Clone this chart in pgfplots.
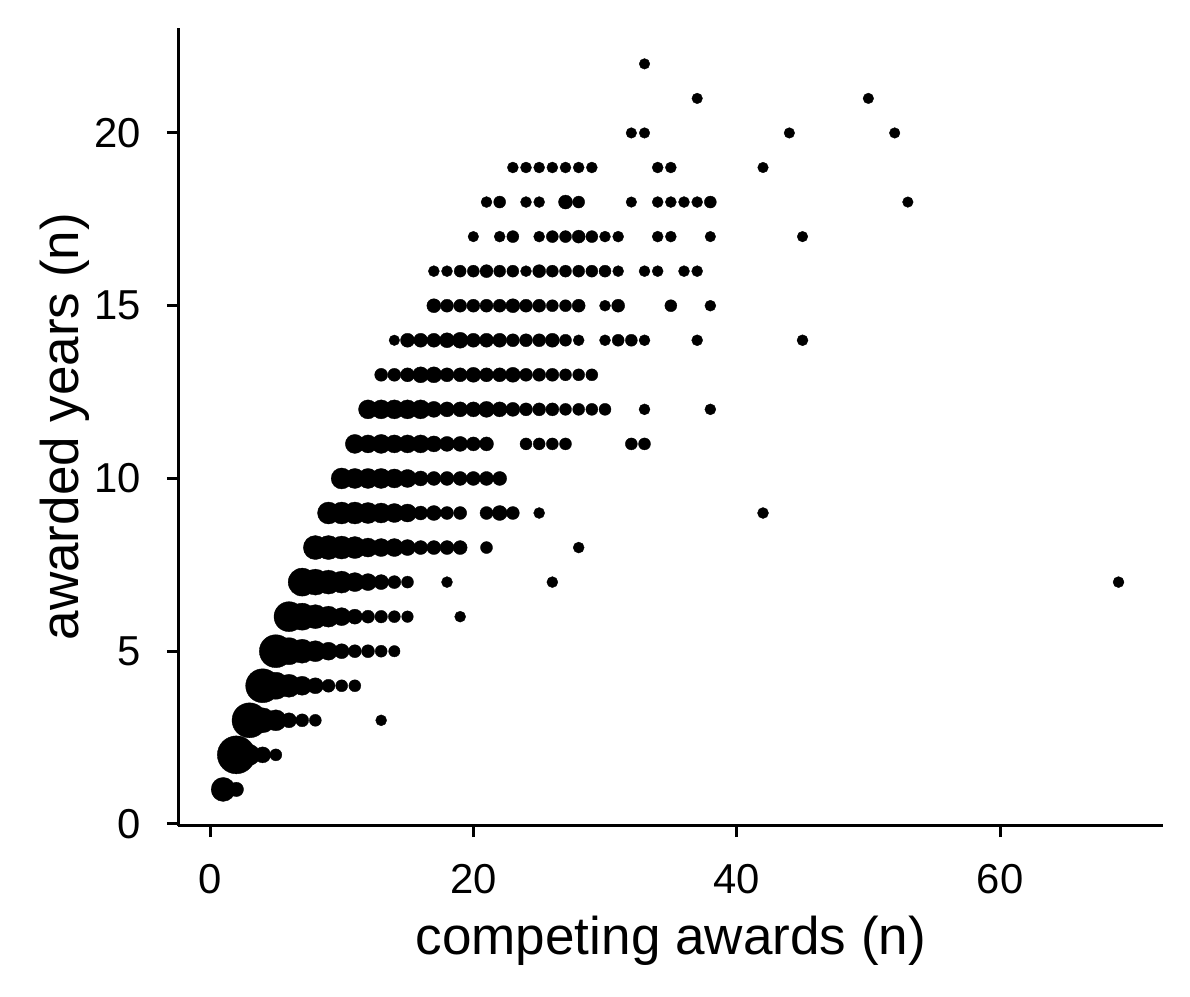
\documentclass[border=0pt]{standalone}
\usepackage{pgfplots}
\pgfplotsset{compat=1.18}
\usepackage{pgfplotstable}
\usepackage{fontspec}
\setmainfont{Liberation Sans}
\pgfplotstableread{
x y r
1 1 11.5
2 1 6.7
2 2 18.5
3 2 10
4 2 7.5
5 2 5.5
3 3 17
4 3 12
5 3 10
6 3 7
7 3 6
8 3 5.5
13 3 5
4 4 16.5
5 4 13
6 4 11
7 4 9
8 4 7.5
9 4 6
10 4 5.5
11 4 5.5
5 5 16
6 5 13
7 5 11.5
8 5 10
9 5 8.5
10 5 7
11 5 6
12 5 6
13 5 5.5
14 5 5.2
6 6 14.5
7 6 13
8 6 11.5
9 6 10
10 6 8.5
11 6 7
12 6 6
13 6 5.8
14 6 5.5
15 6 5.3
19 6 5
7 7 13.5
8 7 12.5
9 7 11.5
10 7 10.5
11 7 9
12 7 8
13 7 7
14 7 6
15 7 5.5
18 7 5
26 7 5
69 7 5
8 8 11.5
9 8 11.5
10 8 11
11 8 10.5
12 8 9
13 8 8.5
14 8 8.5
15 8 7.5
16 8 6.5
17 8 6.5
18 8 6.5
19 8 6.5
21 8 5.5
28 8 5
9 9 10.5
10 9 10.5
11 9 10.5
12 9 10
13 9 9.5
14 9 9
15 9 8.5
16 9 6.5
17 9 7
18 9 6
19 9 6
21 9 6
22 9 7
23 9 6
25 9 5
42 9 5
10 10 10
11 10 9.5
12 10 9.5
13 10 9.5
14 10 9
15 10 8.5
16 10 7
17 10 6.5
18 10 6.5
19 10 6.5
20 10 6.5
21 10 6.5
22 10 6.5
11 11 9
12 11 8.5
13 11 9
14 11 8.5
15 11 8.5
16 11 8.5
17 11 7.5
18 11 7
19 11 7
20 11 6.5
21 11 6.5
24 11 5.5
25 11 5.5
26 11 5.5
27 11 5.5
32 11 5.5
33 11 5.5
12 12 9
13 12 9
14 12 9
15 12 9
16 12 9
17 12 7.5
18 12 7
19 12 7
20 12 7
21 12 7.5
22 12 7
23 12 6.5
24 12 6
25 12 6
26 12 6
27 12 5.5
28 12 5.5
29 12 5.5
30 12 5.5
33 12 5
38 12 5
13 13 6
14 13 6
15 13 6.5
16 13 7.5
17 13 7.5
18 13 6.5
19 13 6.5
20 13 7
21 13 6.5
22 13 6.5
23 13 7
24 13 6
25 13 6
26 13 6
27 13 5.5
28 13 5.5
29 13 5.5
14 14 4.8
15 14 6.5
16 14 6.5
17 14 6.5
18 14 7
19 14 7.5
20 14 6.5
21 14 6.5
22 14 6.5
23 14 6
24 14 6
25 14 6
26 14 6.5
27 14 5.5
28 14 5
30 14 5
31 14 5.5
32 14 5.5
33 14 5
37 14 5
45 14 5
17 15 6.5
18 15 6
19 15 6
20 15 6
21 15 6
22 15 6
23 15 6.5
24 15 6
25 15 6
26 15 5.5
27 15 5.5
28 15 6
30 15 5
31 15 6
35 15 5.5
38 15 5
17 16 5
18 16 5
19 16 5.5
20 16 5.5
21 16 6
22 16 5.5
23 16 5.5
24 16 5
25 16 6
26 16 5.5
27 16 5.5
28 16 5.5
29 16 5.5
30 16 5.5
31 16 5
33 16 5
34 16 5
36 16 5
37 16 5
20 17 4.8
22 17 5
23 17 5.5
25 17 5
26 17 5.5
27 17 5.5
28 17 6
29 17 5.5
30 17 5
31 17 5
34 17 5
35 17 5
38 17 4.8
45 17 4.8
21 18 5
22 18 5.5
24 18 5
25 18 5
27 18 6.5
28 18 5.5
32 18 4.8
34 18 5
35 18 5
36 18 5
37 18 5
38 18 5.5
53 18 4.8
23 19 5
24 19 5
25 19 5
26 19 5
27 19 5
28 19 5
29 19 5
34 19 5
35 19 5
42 19 4.8
32 20 4.8
33 20 4.8
44 20 4.8
52 20 4.8
37 21 4.8
50 21 4.8
33 22 4.8
}\pts
\begin{document}
\begin{tikzpicture}
\begin{axis}[
  name=ax,
  scale only axis,
  width=98.49mm, height=79.81mm,
  xmin=-2.4, xmax=72.4, ymin=-0.05, ymax=23.05,
  axis x line*=bottom, axis y line*=left,
  axis line style={line width=0.3mm, black},
  xtick={0,20,40,60}, ytick={0,5,10,15,20},
  tick align=outside,
  major tick length=1.15mm,
  tick style={line width=0.3mm, black},
  minor tick num=0,
  /pgf/number format/assume math mode=true,
  ticklabel style={font=\fontsize{11.9}{14}\selectfont, inner sep=0pt},
  xticklabel style={anchor=base, yshift=-5.63mm},
  yticklabel style={anchor=east, xshift=-2.54mm},
  xlabel={competing awards (n)},
  ylabel={awarded years (n)},
  label style={font=\fontsize{15.1}{18}\selectfont},
  xlabel style={at={(axis description cs:0.5,-0.1608)}, anchor=base, inner sep=0pt},
  ylabel style={at={(axis description cs:-0.1019,0.5)}, anchor=base, inner sep=0pt},
  clip=false,
]
\addplot[scatter, only marks, mark=*,
  scatter/use mapped color={draw=black, fill=black},
  mark options={line width=0.1pt},
  visualization depends on={\thisrow{r} \as \rr},
  scatter/@pre marker code/.append style={/tikz/mark size={(\rr+0.5)*0.1mm}}]
  table[x=x, y=y] {\pts};
\end{axis}
\path (ax.south west) ++(-17.84mm,-17.13mm) rectangle ++(119mm,99.7mm);
\end{tikzpicture}
\end{document}
